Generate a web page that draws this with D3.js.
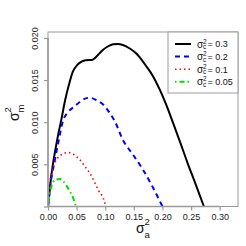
<!DOCTYPE html>
<meta charset="utf-8">
<head>
<style>
  body { margin: 0; background: white; }
  svg { font-family: "Liberation Sans", Arial, sans-serif; }
  .tick text { fill: #222; font-size: 9px; }
</style>
</head>
<body>
<script src="https://d3js.org/d3.v7.min.js"></script>
<script>

// legend / series names
var sigmaC = [0.3, 0.2, 0.1, 0.05];

// sigma_c^2 = 0.3
var s03X = [0, 0.0023, 0.0049, 0.0084, 0.0128, 0.0177, 0.0233, 0.0299, 0.0364, 0.0434, 0.0512, 0.0586, 0.0661, 0.0766, 0.0818, 0.0876, 0.0958, 0.1045, 0.1138, 0.122, 0.1308, 0.143, 0.1552, 0.1722, 0.1832, 0.1955, 0.206, 0.2187, 0.2313, 0.2444, 0.2584, 0.2724];
var s03Y = [0, 0.0014, 0.0032, 0.0049, 0.0067, 0.0085, 0.0103, 0.0126, 0.0144, 0.0160, 0.0168, 0.0172, 0.01735, 0.01738, 0.0176, 0.0180, 0.01857, 0.01898, 0.01924, 0.01928, 0.01916, 0.01874, 0.01809, 0.01659, 0.01549, 0.01383, 0.01217, 0.00988, 0.00755, 0.00506, 0.00257, 0];

// sigma_c^2 = 0.2
var s02X = [0, 0.004, 0.0119, 0.0177, 0.0264, 0.035, 0.0469, 0.0556, 0.065, 0.0731, 0.085, 0.0963, 0.1068, 0.1168, 0.1308, 0.148, 0.1657, 0.183, 0.2];
var s02Y = [0, 0.0025, 0.0055, 0.0075, 0.0102, 0.0112, 0.0119, 0.0124, 0.0128, 0.0129, 0.0126, 0.0121, 0.0112, 0.0101, 0.0079, 0.0062, 0.0044, 0.0023, 0];

// sigma_c^2 = 0.1
var s01X = [0, 0.0015, 0.0035, 0.007, 0.0115, 0.0175, 0.025, 0.035, 0.042, 0.05, 0.0556, 0.065, 0.073, 0.0876, 0.0993, 0.1];
var s01Y = [0, 0.0016, 0.0030, 0.0042, 0.0051, 0.0058, 0.0062, 0.0064, 0.0063, 0.0059, 0.00555, 0.0047, 0.00396, 0.00198, 0.0004, 0];

// sigma_c^2 = 0.05
var s005X = [0, 0.0015, 0.0035, 0.006, 0.0089, 0.014, 0.0206, 0.0264, 0.032, 0.0381, 0.0435, 0.0469, 0.05];
var s005Y = [0, 0.0009, 0.0017, 0.0024, 0.0029, 0.0032, 0.00325, 0.003, 0.0025, 0.0018, 0.0011, 0.0004, 0];

var xTicks = [0, 0.05, 0.10, 0.15, 0.20, 0.25, 0.30];
var yTicks = [0, 0.005, 0.010, 0.015, 0.020];
var yTickLabels = ["", "0.005", "0.010", "0.015", "0.020"];

var series = [
  {name: sigmaC[0], x: s03X, y: s03Y, color: "#000000", dash: null, w: 2},
  {name: sigmaC[1], x: s02X, y: s02Y, color: "#0000ff", dash: "5,4", w: 2},
  {name: sigmaC[2], x: s01X, y: s01Y, color: "#ff0000", dash: "1.5,3", w: 1.6},
  {name: sigmaC[3], x: s005X, y: s005Y, color: "#00e000", dash: "1.5,3,5,3", w: 2}
];

var W = 246, H = 246;
var mLeft = 48, mRight = 238, mTop = 32, mBottom = 206.5;

var x = d3.scaleLinear().domain([0, 0.332]).range([mLeft, mRight]);
var y = d3.scaleLinear().domain([0, 0.0207]).range([mBottom, mTop]);

var svg = d3.select("body").append("svg")
    .attr("width", W)
    .attr("height", H);

// curves
var line = d3.line()
    .x(function(d) { return x(d[0]); })
    .y(function(d) { return y(d[1]); })
    .curve(d3.curveMonotoneX);

svg.append("defs").append("clipPath").attr("id", "clip")
  .append("rect").attr("x", mLeft).attr("y", mTop)
  .attr("width", mRight - mLeft).attr("height", mBottom - mTop);

series.forEach(function(s) {
  var pts = s.x.map(function(v, i) { return [v, s.y[i]]; });
  svg.append("path")
      .datum(pts)
      .attr("clip-path", "url(#clip)")
      .attr("fill", "none")
      .attr("stroke", s.color)
      .attr("stroke-width", s.w)
      .attr("stroke-dasharray", s.dash)
      .attr("d", line);
});

// box
svg.append("rect")
    .attr("x", mLeft).attr("y", mTop)
    .attr("width", mRight - mLeft).attr("height", mBottom - mTop)
    .attr("fill", "none")
    .attr("stroke", "#9a9a9a")
    .attr("stroke-width", 1);

// axes
var xAxis = svg.append("g")
    .attr("transform", "translate(0," + mBottom + ")")
    .call(d3.axisBottom(x).tickValues(xTicks).tickFormat(d3.format(".2f")).tickSize(4).tickPadding(3));

var yAxis = svg.append("g")
    .attr("transform", "translate(" + mLeft + ",0)")
    .call(d3.axisLeft(y).tickValues(yTicks).tickFormat(function(d, i) { return yTickLabels[i]; }).tickSize(4).tickPadding(3));

svg.selectAll(".domain").attr("stroke", "#9a9a9a").attr("stroke-width", 1.6);
svg.selectAll(".tick line").attr("stroke", "#9a9a9a").attr("stroke-width", 1.2);

xAxis.select(".domain").attr("d", "M" + x(0) + ",0H" + x(0.30));
yAxis.select(".domain").attr("d", "M0," + y(0) + "V" + y(0.020));

yAxis.selectAll(".tick text")
    .attr("transform", "rotate(-90)")
    .attr("x", 0)
    .attr("y", -10)
    .attr("dy", 0)
    .style("text-anchor", "middle");

// axis titles
svg.append("text").attr("x", 136).attr("y", 233).style("font-size", "14px").attr("fill", "#111").text("σ");
svg.append("text").attr("x", 144.5).attr("y", 225).style("font-size", "9.5px").attr("fill", "#111").text("2");
svg.append("text").attr("x", 144.5).attr("y", 238).style("font-size", "9.5px").attr("fill", "#111").text("a");

var yt = svg.append("g").attr("transform", "translate(19,117) rotate(-90)");
yt.append("text").attr("x", -4).attr("y", 0).style("font-size", "14px").attr("fill", "#111").text("σ");
yt.append("text").attr("x", 4.5).attr("y", -8).style("font-size", "9.5px").attr("fill", "#111").text("2");
yt.append("text").attr("x", 4.5).attr("y", 5).style("font-size", "9.5px").attr("fill", "#111").text("m");

// legend
var lg = svg.append("g");
lg.append("rect")
    .attr("x", 168).attr("y", mTop)
    .attr("width", mRight - 168).attr("height", 61)
    .attr("fill", "white")
    .attr("stroke", "#9a9a9a");

var rows = lg.selectAll(".legend")
    .data(series)
    .enter().append("g")
    .attr("class", "legend")
    .attr("transform", function(d, i) { return "translate(0," + (44 + i * 12.6) + ")"; });

rows.append("line")
    .attr("x1", 175).attr("x2", 191)
    .attr("stroke", function(d) { return d.color; })
    .attr("stroke-width", function(d) { return d.w; })
    .attr("stroke-dasharray", function(d) { return d.dash; });

rows.append("text").attr("x", 197).attr("y", 3.5).style("font-size", "10px").attr("fill", "#111").text("σ");
rows.append("text").attr("x", 203).attr("y", -0.5).style("font-size", "6.5px").attr("fill", "#111").text("2");
rows.append("text").attr("x", 203).attr("y", 5).style("font-size", "6.5px").attr("fill", "#111").text("c");
rows.append("text").attr("x", 207.5).attr("y", 3.3).style("font-size", "9px").attr("fill", "#111")
    .text(function(d) { return "= " + d.name; });

</script>
</body>
